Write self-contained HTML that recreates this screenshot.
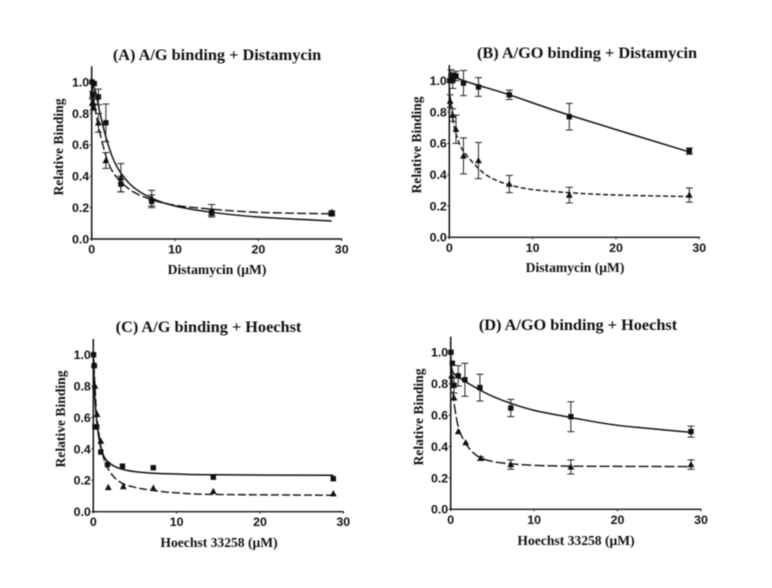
<!DOCTYPE html>
<html lang="en">
<head>
<meta charset="utf-8">
<title>Relative binding charts</title>
<style>
html,body{margin:0;padding:0;background:#fff;}
body{width:772px;height:588px;overflow:hidden;}
svg{display:block;filter:blur(0.4px);}
.title{font:bold 16.3px "Liberation Serif",serif;fill:#111;text-anchor:middle;}
.xlab,.ylab{font:bold 13.6px "Liberation Serif",serif;fill:#111;text-anchor:middle;}
.tick{font:bold 12.4px "Liberation Sans",sans-serif;fill:#111;}
</style>
</head>
<body>
<svg id="figure" width="772" height="588" viewBox="0 0 772 588" xmlns="http://www.w3.org/2000/svg">
<rect width="772" height="588" fill="#fff"/>
<g id="panel-a">
<text class="title" x="217" y="60">(A) A/G binding + Distamycin</text>
<text class="xlab" x="217" y="274">Distamycin (μM)</text>
<text class="ylab" transform="translate(63,147) rotate(-90)">Relative Binding</text>
</g>
<g id="panel-b">
<text class="title" x="587" y="58">(B) A/GO binding + Distamycin</text>
<text class="xlab" x="575" y="272">Distamycin (μM)</text>
<text class="ylab" transform="translate(421,145) rotate(-90)">Relative Binding</text>
</g>
<g id="panel-c">
<text class="title" x="208.5" y="332">(C) A/G binding + Hoechst</text>
<text class="xlab" x="219" y="547">Hoechst 33258 (μM)</text>
<text class="ylab" transform="translate(65,419) rotate(-90)">Relative Binding</text>
</g>
<g id="panel-d">
<text class="title" x="578" y="330">(D) A/GO binding + Hoechst</text>
<text class="xlab" x="576" y="545">Hoechst 33258 (μM)</text>
<text class="ylab" transform="translate(423,417) rotate(-90)">Relative Binding</text>
</g>
</svg>
<script>
var xTickLabels = [0, 10, 20, 30];
var yTickLabels = ['0.0', '0.2', '0.4', '0.6', '0.8', '1.0'];

// Panel A
var aSquareX = [0.03, 0.11, 0.3, 0.8, 1.7, 3.5, 7.2, 14.4, 28.8];
var aSquareY = [1.0, 0.92, 0.99, 0.905, 0.74, 0.35, 0.24, 0.17, 0.16];
var aSquareErr = [0, 0.02, 0, 0.05, 0.12, 0.05, 0.04, 0.02, 0.01];
var aTriangleX = [0.11, 0.22, 0.8, 1.7, 3.5, 7.2, 14.4, 28.8];
var aTriangleY = [0.87, 0.84, 0.74, 0.5, 0.39, 0.26, 0.18, 0.17];
var aTriangleErr = [0.02, 0.02, 0.06, 0.05, 0.09, 0.05, 0.04, 0.01];
var aSolidX = [0, 0.5, 1, 1.7, 2.5, 3.5, 5, 7.2, 10, 14.4, 20, 28.8];
var aSolidY = [1.0, 0.93, 0.8, 0.65, 0.52, 0.42, 0.33, 0.26, 0.21, 0.17, 0.14, 0.115];
var aDashX = [0, 0.3, 0.8, 1.7, 2.5, 3.5, 5, 7.2, 10, 14.4, 20, 28.8];
var aDashY = [1.0, 0.87, 0.72, 0.53, 0.43, 0.365, 0.3, 0.25, 0.215, 0.19, 0.17, 0.16];

// Panel B
var bSquareX = [0.05, 0.2, 0.4, 0.8, 1.7, 3.5, 7.2, 14.4, 28.8];
var bSquareY = [1.0, 1.03, 1.0, 1.03, 0.985, 0.96, 0.91, 0.77, 0.55];
var bSquareErr = [0, 0.04, 0.05, 0.03, 0.08, 0.06, 0.03, 0.085, 0.02];
var bTriangleX = [0.1, 0.4, 0.8, 1.7, 3.5, 7.2, 14.4, 28.8];
var bTriangleY = [0.87, 0.78, 0.69, 0.52, 0.49, 0.34, 0.27, 0.27];
var bTriangleErr = [0.04, 0.04, 0.09, 0.115, 0.115, 0.055, 0.05, 0.045];
var bSolidX = [0, 0.8, 1.7, 3.5, 7.2, 14.4, 28.8];
var bSolidY = [1.03, 1.02, 1.0, 0.97, 0.91, 0.78, 0.545];
var bDashX = [0, 0.5, 1, 1.7, 3.5, 5, 7.2, 10, 14.4, 20, 28.8];
var bDashY = [0.95, 0.73, 0.63, 0.55, 0.44, 0.38, 0.335, 0.305, 0.285, 0.27, 0.26];

// Panel C
var cSquareX = [0.03, 0.11, 0.2, 0.4, 0.9, 1.7, 3.5, 7.2, 14.4, 28.8];
var cSquareY = [1.0, 0.93, 0.54, 0.54, 0.38, 0.3, 0.29, 0.28, 0.22, 0.21];
var cSquareErr = [0, 0, 0, 0, 0, 0, 0, 0, 0, 0];
var cTriangleX = [0.1, 0.2, 0.45, 0.9, 1.8, 3.6, 7.2, 14.4, 28.8];
var cTriangleY = [0.94, 0.8, 0.62, 0.45, 0.155, 0.16, 0.15, 0.13, 0.115];
var cTriangleErr = [0, 0, 0, 0, 0, 0, 0, 0, 0];
var cSolidX = [0, 0.2, 0.4, 0.8, 1.2, 1.7, 2.5, 3.5, 5, 7.2, 10, 14.4, 28.8];
var cSolidY = [1.0, 0.72, 0.58, 0.43, 0.36, 0.32, 0.29, 0.27, 0.255, 0.245, 0.24, 0.235, 0.232];
var cDashX = [0, 0.2, 0.4, 0.8, 1.2, 1.7, 2.5, 3.5, 5, 7.2, 10, 14.4, 28.8];
var cDashY = [1.0, 0.8, 0.62, 0.45, 0.35, 0.28, 0.22, 0.18, 0.155, 0.135, 0.12, 0.11, 0.105];

// Panel D
var dSquareX = [0.03, 0.2, 0.4, 0.9, 1.7, 3.5, 7.2, 14.4, 28.8];
var dSquareY = [1.0, 0.93, 0.79, 0.85, 0.825, 0.775, 0.645, 0.59, 0.495];
var dSquareErr = [0, 0, 0.05, 0.065, 0.105, 0.085, 0.055, 0.095, 0.035];
var dTriangleX = [0.1, 0.4, 0.9, 1.8, 3.6, 7.2, 14.4, 28.8];
var dTriangleY = [0.85, 0.71, 0.495, 0.425, 0.325, 0.285, 0.27, 0.285];
var dTriangleErr = [0, 0, 0, 0, 0.01, 0.03, 0.045, 0.03];
var dSolidX = [0, 0.3, 1, 1.7, 3.5, 5, 7.2, 10, 14.4, 20, 28.8];
var dSolidY = [0.93, 0.87, 0.84, 0.815, 0.76, 0.72, 0.675, 0.63, 0.585, 0.535, 0.49];
var dDashX = [0, 0.2, 0.4, 0.8, 1.2, 1.8, 2.5, 3.5, 5, 7.2, 10, 14.4, 28.8];
var dDashY = [1.0, 0.8, 0.68, 0.55, 0.48, 0.42, 0.37, 0.33, 0.305, 0.29, 0.28, 0.275, 0.272];

var NS = 'http://www.w3.org/2000/svg';

function svgEl(tag, parent) {
  var el = document.createElementNS(NS, tag);
  parent.appendChild(el);
  return el;
}

function smoothPath(xs, ys, sx, sy) {
  var pts = xs.map(function (x, i) { return [sx(x), sy(ys[i])]; });
  var d = 'M' + pts[0][0].toFixed(2) + ' ' + pts[0][1].toFixed(2);
  for (var i = 0; i < pts.length - 1; i++) {
    var p0 = pts[Math.max(i - 1, 0)], p1 = pts[i], p2 = pts[i + 1], p3 = pts[Math.min(i + 2, pts.length - 1)];
    var c1x = p1[0] + (p2[0] - p0[0]) / 6, c1y = p1[1] + (p2[1] - p0[1]) / 6;
    var c2x = p2[0] - (p3[0] - p1[0]) / 6, c2y = p2[1] - (p3[1] - p1[1]) / 6;
    d += 'C' + c1x.toFixed(2) + ' ' + c1y.toFixed(2) + ' ' + c2x.toFixed(2) + ' ' + c2y.toFixed(2) + ' ' + p2[0].toFixed(2) + ' ' + p2[1].toFixed(2);
  }
  return d;
}

function drawPanel(cfg) {
  var g = document.getElementById(cfg.id);
  var sx = function (v) { return cfg.x0 + v * (cfg.x30 - cfg.x0) / 30; };
  var sy = function (v) { return cfg.y0 + v * (cfg.y1 - cfg.y0); };

  var xAxis = svgEl('line', g);
  
  
  xAxis.setAttribute('x1', sx(0) - 1);
  xAxis.setAttribute('x2', sx(30) + 0.5);
  xAxis.setAttribute('y1', cfg.y0);
  xAxis.setAttribute('y2', cfg.y0);
  xAxis.setAttribute('stroke', '#111');
  xAxis.setAttribute('stroke-width', '1.4');

  var yAxis = svgEl('line', g);
  
  
  yAxis.setAttribute('x1', cfg.x0);
  yAxis.setAttribute('x2', cfg.x0);
  yAxis.setAttribute('y1', cfg.y0 + 0.5);
  yAxis.setAttribute('y2', sy(1.1));
  yAxis.setAttribute('stroke', '#111');
  yAxis.setAttribute('stroke-width', '1.5');

  xTickLabels.forEach(function (t) {
    var tm = svgEl('line', g);
    
    
    tm.setAttribute('x1', sx(t));
    tm.setAttribute('x2', sx(t));
    tm.setAttribute('y1', cfg.y0);
    tm.setAttribute('y2', cfg.y0 + 2);
    tm.setAttribute('stroke', '#222');
    tm.setAttribute('stroke-width', '1');
    var lb = svgEl('text', g);
    
    
    lb.setAttribute('class', 'tick');
    lb.setAttribute('x', sx(t));
    lb.setAttribute('y', cfg.y0 + 14.5);
    lb.setAttribute('text-anchor', 'middle');
    lb.textContent = t;
  });

  yTickLabels.forEach(function (t) {
    var v = parseFloat(t);
    var tm = svgEl('line', g);
    
    
    tm.setAttribute('x1', cfg.x0 - 2);
    tm.setAttribute('x2', cfg.x0);
    tm.setAttribute('y1', sy(v));
    tm.setAttribute('y2', sy(v));
    tm.setAttribute('stroke', '#222');
    tm.setAttribute('stroke-width', '1');
    var lb = svgEl('text', g);
    
    
    lb.setAttribute('class', 'tick');
    lb.setAttribute('x', cfg.x0 - 2.5);
    lb.setAttribute('y', sy(v) + 4.4);
    lb.setAttribute('text-anchor', 'end');
    lb.textContent = t;
  });

  var solid = svgEl('path', g);
  
  
  solid.setAttribute('d', smoothPath(cfg.solidX, cfg.solidY, sx, sy));
  solid.setAttribute('fill', 'none');
  solid.setAttribute('stroke', '#111');
  solid.setAttribute('stroke-width', '1.5');

  var dash = svgEl('path', g);
  
  
  dash.setAttribute('d', smoothPath(cfg.dashX, cfg.dashY, sx, sy));
  dash.setAttribute('fill', 'none');
  dash.setAttribute('stroke', '#111');
  dash.setAttribute('stroke-width', '1.4');
  dash.setAttribute('stroke-dasharray', cfg.dashPattern);

  function errorBars(xs, ys, errs) {
    xs.forEach(function (x, i) {
      if (!errs[i]) return;
      var px = sx(x), top = sy(ys[i] + errs[i]), bot = sy(ys[i] - errs[i]);
      var eb = svgEl('path', g);
      
      
      eb.setAttribute('d', 'M' + px + ' ' + top + 'V' + bot + 'M' + (px - 3.5) + ' ' + top + 'H' + (px + 3.5) + 'M' + (px - 3.5) + ' ' + bot + 'H' + (px + 3.5));
      eb.setAttribute('fill', 'none');
      eb.setAttribute('stroke', '#222');
      eb.setAttribute('stroke-width', '1');
    });
  }
  errorBars(cfg.squareX, cfg.squareY, cfg.squareErr);
  errorBars(cfg.triangleX, cfg.triangleY, cfg.triangleErr);

  cfg.squareX.forEach(function (x, i) {
    var s = svgEl('rect', g);
    
    
    s.setAttribute('x', sx(x) - 2.7);
    s.setAttribute('y', sy(cfg.squareY[i]) - 2.7);
    s.setAttribute('width', '5.4');
    s.setAttribute('height', '5.4');
    s.setAttribute('fill', '#111');
  });

  cfg.triangleX.forEach(function (x, i) {
    var px = sx(x), py = sy(cfg.triangleY[i]);
    var t = svgEl('polygon', g);
    
    
    t.setAttribute('points', px + ',' + (py - 3.6) + ' ' + (px + 3.4) + ',' + (py + 2.7) + ' ' + (px - 3.4) + ',' + (py + 2.7));
    t.setAttribute('fill', '#111');
  });
}

drawPanel({ id: 'panel-a', x0: 91.7, x30: 341.7, y0: 239, y1: 82, dashPattern: '9 3',
  squareX: aSquareX, squareY: aSquareY, squareErr: aSquareErr,
  triangleX: aTriangleX, triangleY: aTriangleY, triangleErr: aTriangleErr,
  solidX: aSolidX, solidY: aSolidY, dashX: aDashX, dashY: aDashY });
drawPanel({ id: 'panel-b', x0: 449.3, x30: 699.3, y0: 237.3, y1: 80.7, dashPattern: '5 2.5',
  squareX: bSquareX, squareY: bSquareY, squareErr: bSquareErr,
  triangleX: bTriangleX, triangleY: bTriangleY, triangleErr: bTriangleErr,
  solidX: bSolidX, solidY: bSolidY, dashX: bDashX, dashY: bDashY });
drawPanel({ id: 'panel-c', x0: 93.3, x30: 343.3, y0: 511.7, y1: 354.7, dashPattern: '8 3',
  squareX: cSquareX, squareY: cSquareY, squareErr: cSquareErr,
  triangleX: cTriangleX, triangleY: cTriangleY, triangleErr: cTriangleErr,
  solidX: cSolidX, solidY: cSolidY, dashX: cDashX, dashY: cDashY });
drawPanel({ id: 'panel-d', x0: 450.7, x30: 701, y0: 509.3, y1: 352.3, dashPattern: '10 3',
  squareX: dSquareX, squareY: dSquareY, squareErr: dSquareErr,
  triangleX: dTriangleX, triangleY: dTriangleY, triangleErr: dTriangleErr,
  solidX: dSolidX, solidY: dSolidY, dashX: dDashX, dashY: dDashY });
</script>
</body>
</html>
